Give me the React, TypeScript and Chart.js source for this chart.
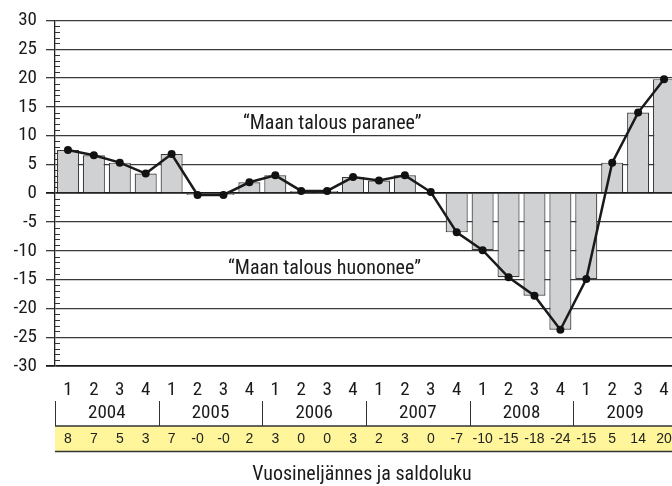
import React, { useEffect, useRef } from "react";
import { Chart, registerables } from "chart.js";

Chart.register(...registerables);

const quarters = ["1","2","3","4","1","2","3","4","1","2","3","4","1","2","3","4","1","2","3","4","1","2","3","4"];
const years = ["2004", "2005", "2006", "2007", "2008", "2009"];
const saldo = [7.5, 6.6, 5.3, 3.4, 6.8, -0.3, -0.3, 1.9, 3.1, 0.4, 0.4, 2.8, 2.2, 3.1, 0.2, -6.8, -9.9, -14.6, -17.8, -23.7, -14.9, 5.3, 14.0, 19.8];
const tableLabels = ["8","7","5","3","7","-0","-0","2","3","0","0","3","2","3","0","-7","-10","-15","-18","-24","-15","5","14","20"];
const noteUp = "\u201cMaan talous paranee\u201d";
const noteDown = "\u201cMaan talous huononee\u201d";
const axisTitle = "Vuosineljännes ja saldoluku";

const COND = "'Liberation Sans Narrow', 'Roboto Condensed', 'Arial Narrow', 'Liberation Sans', sans-serif";
const REG = "'Liberation Sans', Arial, sans-serif";

const extras = {
  id: "extras",
  beforeDatasetsDraw(chart: any) {
    const { ctx, chartArea } = chart;
    const y = chart.scales.y;
    ctx.save();
    ctx.strokeStyle = "#333";
    ctx.lineWidth = 1;
    for (let v = -30; v <= 30; v++) {
      if (v % 5 === 0) continue;
      const py = Math.round(y.getPixelForValue(v)) + 0.5;
      ctx.beginPath();
      ctx.moveTo(chartArea.left, py);
      ctx.lineTo(chartArea.left + 5, py);
      ctx.stroke();
    }
    ctx.restore();
  },
  afterDraw(chart: any) {
    const { ctx, chartArea } = chart;
    const x = chart.scales.x;
    const y = chart.scales.y;
    const cw = x.getPixelForValue(1) - x.getPixelForValue(0);
    ctx.save();
    // notes
    ctx.fillStyle = "#1a1a1a";
    ctx.font = `20px ${COND}`;
    ctx.textAlign = "center";
    ctx.textBaseline = "middle";
    ctx.fillText(noteUp, x.getPixelForValue(10.2), y.getPixelForValue(12.1));
    ctx.fillText(noteDown, x.getPixelForValue(9.9), y.getPixelForValue(-13.1));
    // quarter labels
    ctx.font = `19px ${COND}`;
    quarters.forEach((q, i) => {
      ctx.fillText(q, x.getPixelForValue(i), 390);
    });
    // years
    years.forEach((yr, k) => {
      const cx = (x.getPixelForValue(4 * k) + x.getPixelForValue(4 * k + 3)) / 2;
      ctx.fillText(yr, cx, 413);
      const sx = Math.round(x.getPixelForValue(4 * k) - cw / 2) + 0.5;
      ctx.strokeStyle = "#333";
      ctx.lineWidth = 1;
      ctx.beginPath();
      ctx.moveTo(sx, 401);
      ctx.lineTo(sx, 426);
      ctx.stroke();
    });
    // yellow strip
    ctx.fillStyle = "#fff59a";
    ctx.fillRect(chartArea.left, 426, chartArea.right - chartArea.left, 25);
    ctx.strokeStyle = "#333";
    ctx.lineWidth = 1.5;
    ctx.beginPath();
    ctx.moveTo(chartArea.left, 426);
    ctx.lineTo(chartArea.right, 426);
    ctx.moveTo(chartArea.left, 451.5);
    ctx.lineTo(chartArea.right, 451.5);
    ctx.stroke();
    ctx.fillStyle = "#222";
    ctx.font = `14px ${REG}`;
    tableLabels.forEach((t, i) => {
      ctx.fillText(t, x.getPixelForValue(i), 439);
    });
    // title
    ctx.fillStyle = "#1a1a1a";
    ctx.font = `20px ${COND}`;
    ctx.fillText(axisTitle, 362, 475);
    ctx.restore();
  },
};

export default function App() {
  const ref = useRef<HTMLCanvasElement | null>(null);
  useEffect(() => {
    if (!ref.current) return;
    const chart = new Chart(ref.current, {
      type: "bar",
      data: {
        labels: quarters,
        datasets: [
          {
            type: "line",
            data: saldo,
            borderColor: "#1a1a1a",
            backgroundColor: "#1a1a1a",
            borderWidth: 2.5,
            pointRadius: 4,
            pointBackgroundColor: "#111",
            pointBorderWidth: 0,
            tension: 0,
            order: 0,
          } as any,
          {
            type: "bar",
            data: saldo,
            backgroundColor: "#d0d1d3",
            borderColor: "#3a3a3a",
            borderWidth: 1.2,
            categoryPercentage: 1,
            barPercentage: 0.85,
            order: 1,
          },
        ],
      },
      plugins: [extras],
      options: {
        responsive: false,
        animation: false,
        events: [],
        layout: { padding: { top: 17, bottom: 120, left: 0, right: 0 } },
        plugins: { legend: { display: false }, tooltip: { enabled: false } },
        scales: {
          x: { display: false, offset: true },
          y: {
            min: -30,
            max: 30,
            afterFit: (s: any) => { s.width = 55; },
            ticks: {
              stepSize: 5,
              padding: 9,
              color: "#1a1a1a",
              font: { family: COND, size: 19 },
            },
            grid: {
              tickLength: 9,
              color: (c: any) => (c.tick && (c.tick.value === 0 || c.tick.value === -30) ? "#1a1a1a" : "#3a3a3a"),
              lineWidth: (c: any) => (c.tick && (c.tick.value === 0 || c.tick.value === -30) ? 1.8 : 1.3),
            },
            border: { color: "#222", width: 1.3 },
          },
        },
      },
    });
    return () => chart.destroy();
  }, []);
  return (
    <div style={{ position: "fixed", left: 0, top: 0, width: 672, height: 486, overflow: "hidden", background: "#fff" }}>
      <canvas ref={ref} width={681} height={486} style={{ width: 681, height: 486, display: "block" }} />
    </div>
  );
}
